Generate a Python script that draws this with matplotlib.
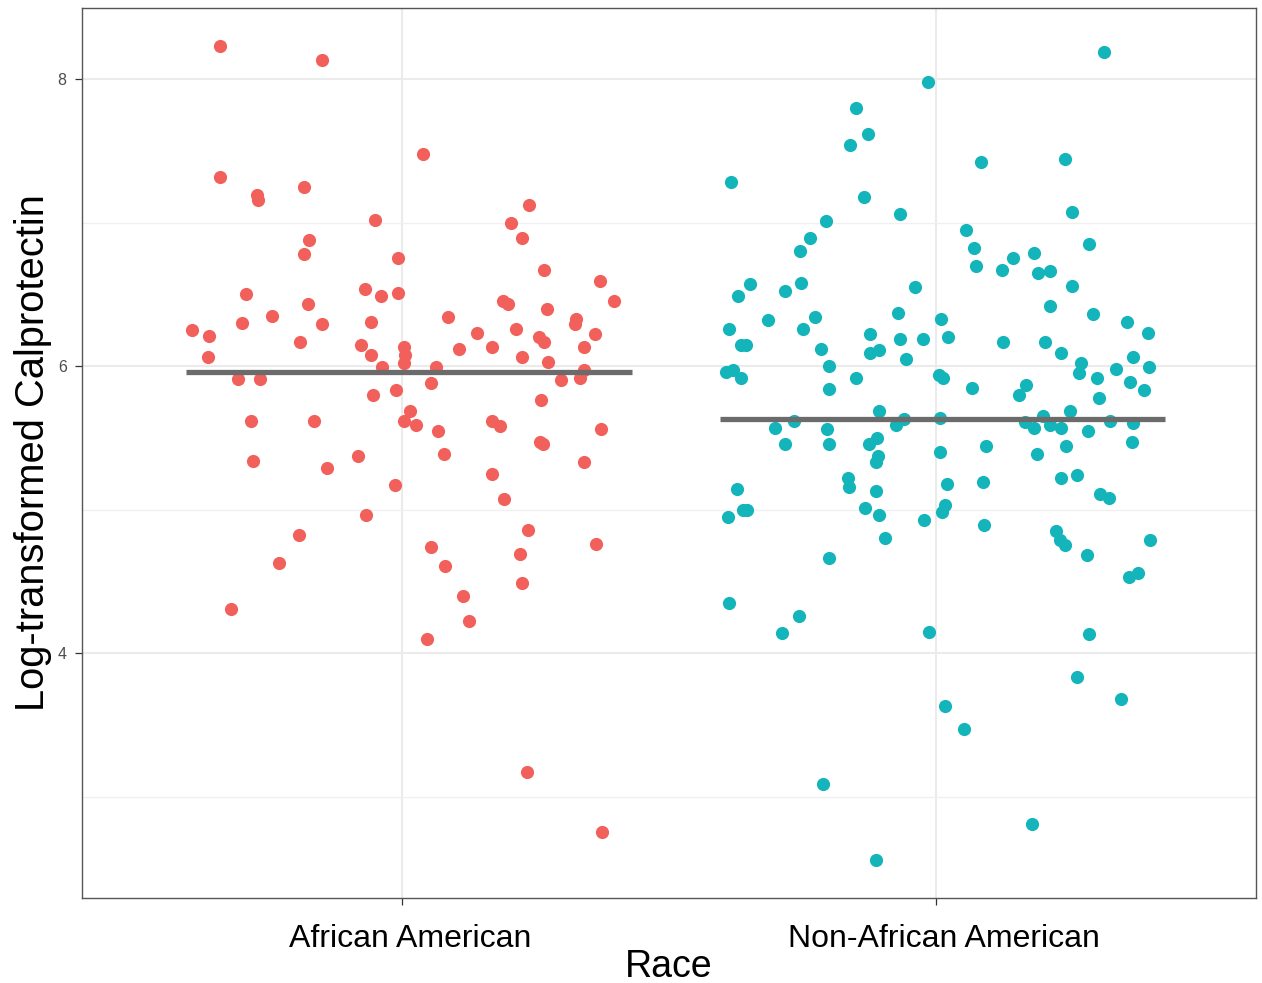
import matplotlib
matplotlib.use("Agg")
import matplotlib.pyplot as plt
import matplotlib.transforms as mtransforms
import numpy as np

categories = ["African American", "Non-African American"]

# African American: horizontal jitter offset and log-transformed calprotectin
aa_jitter = [-0.341, -0.150, -0.341, -0.272, -0.270, -0.184, 0.039, 0.238, -0.051, 0.203,
             -0.174, 0.225, -0.184, -0.008, 0.265, 0.371, -0.293, -0.069, -0.039, -0.008,
             -0.176, -0.244, -0.300, -0.394, -0.362, -0.150, -0.058, 0.086, 0.188, 0.199,
             0.272, 0.396, 0.326, 0.323, 0.214, 0.141, 0.362, -0.191, -0.077, 0.004,
             0.006, 0.004, 0.107, 0.169, 0.257, 0.266, 0.340, -0.364, -0.058, 0.225,
             0.274, -0.038, 0.064, -0.308, -0.266, 0.334, 0.340, 0.298, -0.011, 0.054,
             -0.054, 0.261, 0.015, -0.283, 0.004, 0.026, -0.165, 0.169, 0.184, 0.068,
             0.373, 0.259, 0.263, -0.280, -0.083, 0.079, -0.141, 0.341, 0.169, -0.013,
             0.191, -0.068, 0.236, -0.193, 0.054, 0.364, 0.221, -0.231, 0.081, 0.225,
             0.114, -0.321, 0.126, 0.047, 0.233, 0.375]
aa_values = [8.23, 8.13, 7.32, 7.19, 7.16, 7.25, 7.48, 7.12, 7.02, 7.00,
             6.88, 6.89, 6.78, 6.75, 6.67, 6.59, 6.50, 6.54, 6.49, 6.51,
             6.43, 6.35, 6.30, 6.25, 6.21, 6.29, 6.31, 6.34, 6.45, 6.43,
             6.40, 6.45, 6.33, 6.29, 6.26, 6.23, 6.22, 6.17, 6.15, 6.13,
             6.08, 6.02, 6.12, 6.13, 6.20, 6.17, 6.13, 6.06, 6.08, 6.06,
             6.03, 5.99, 5.99, 5.91, 5.91, 5.92, 5.97, 5.90, 5.83, 5.88,
             5.80, 5.76, 5.69, 5.62, 5.62, 5.59, 5.62, 5.62, 5.58, 5.55,
             5.56, 5.47, 5.46, 5.34, 5.37, 5.39, 5.29, 5.33, 5.25, 5.17,
             5.07, 4.96, 4.86, 4.82, 4.74, 4.76, 4.69, 4.63, 4.61, 4.49,
             4.40, 4.31, 4.22, 4.10, 3.17, 2.75]

# Non-African American
naa_jitter = [0.315, -0.015, -0.150, -0.128, -0.161, 0.084, 0.242, -0.383, -0.135, 0.255,
              -0.068, -0.205, 0.056, -0.236, 0.287, 0.071, -0.255, 0.184, 0.144, 0.075,
              0.124, 0.191, 0.214, -0.349, -0.253, -0.371, -0.283, -0.039, 0.255, 0.214,
              -0.071, -0.227, -0.315, 0.009, 0.295, 0.358, -0.388, -0.248, -0.366, -0.356,
              -0.216, -0.124, -0.068, -0.024, -0.124, -0.107, -0.056, 0.023, 0.126, 0.205,
              0.398, 0.235, 0.370, 0.400, 0.272, 0.268, 0.338, 0.302, 0.364, 0.390,
              0.306, -0.394, -0.381, -0.366, -0.201, -0.150, -0.201, 0.006, 0.013, 0.068,
              0.169, 0.156, -0.107, -0.266, -0.302, -0.203, -0.075, -0.060, 0.008, 0.201,
              0.251, 0.167, 0.184, 0.214, 0.235, 0.326, 0.370, 0.285, 0.368, -0.283,
              -0.201, -0.126, -0.111, -0.113, -0.109, 0.008, 0.094, 0.244, 0.189, -0.165,
              -0.163, -0.113, -0.373, -0.362, -0.353, -0.390, -0.133, -0.107, -0.096, -0.023,
              0.011, 0.017, 0.021, 0.088, 0.235, 0.265, 0.308, 0.325, 0.090, 0.225,
              0.233, 0.242, 0.283, 0.402, -0.201, 0.362, 0.379, -0.388, -0.257, -0.289,
              -0.013, 0.287, 0.265, 0.347, 0.017, 0.053, -0.212, 0.180, -0.113]
naa_values = [8.19, 7.98, 7.80, 7.62, 7.54, 7.42, 7.44, 7.28, 7.18, 7.07,
              7.06, 7.01, 6.95, 6.89, 6.85, 6.82, 6.80, 6.79, 6.75, 6.70,
              6.67, 6.65, 6.66, 6.57, 6.58, 6.49, 6.52, 6.55, 6.56, 6.42,
              6.37, 6.34, 6.32, 6.33, 6.36, 6.31, 6.26, 6.26, 6.15, 6.15,
              6.12, 6.22, 6.19, 6.19, 6.09, 6.11, 6.05, 6.20, 6.17, 6.17,
              6.23, 6.09, 6.06, 5.99, 6.02, 5.95, 5.98, 5.92, 5.89, 5.83,
              5.78, 5.96, 5.97, 5.92, 6.00, 5.92, 5.84, 5.94, 5.92, 5.85,
              5.87, 5.80, 5.69, 5.62, 5.57, 5.56, 5.59, 5.63, 5.64, 5.65,
              5.69, 5.61, 5.57, 5.59, 5.57, 5.62, 5.60, 5.55, 5.47, 5.46,
              5.46, 5.46, 5.50, 5.33, 5.37, 5.40, 5.44, 5.44, 5.39, 5.22,
              5.16, 5.13, 5.14, 5.00, 5.00, 4.95, 5.01, 4.96, 4.80, 4.93,
              4.98, 5.03, 5.18, 5.19, 5.22, 5.24, 5.11, 5.08, 4.89, 4.85,
              4.79, 4.75, 4.68, 4.79, 4.66, 4.53, 4.56, 4.35, 4.26, 4.14,
              4.15, 4.13, 3.83, 3.68, 3.63, 3.47, 3.09, 2.81, 2.56]

group_means = [5.96, 5.63]

y_ticks = [4, 6, 8]
y_minor = [3, 5, 7]

colors = ["#F2605B", "#13B5BA"]
line_lo, line_hi = -0.405, 0.43

fig = plt.figure(figsize=(12.62, 9.83), dpi=100)
ax = fig.add_axes([82 / 1262, 1 - 898 / 983, (1256 - 82) / 1262, (898 - 8) / 983])

xs = [1, 2]
jit = [aa_jitter, naa_jitter]
vals = [aa_values, naa_values]

for i in range(2):
    ax.scatter(np.array(jit[i]) + xs[i], vals[i], s=90, color=colors[i],
               linewidths=0, zorder=3)

for i in range(2):
    ax.hlines(group_means[i], xs[i] + line_lo, xs[i] + line_hi, color="#6B6B6B",
              linewidth=3.8, zorder=4)

ax.set_xlim(0.4, 2.6)
ax.set_ylim(2.293, 8.495)
ax.set_xticks(xs)
ax.set_xticklabels(categories, fontsize=23, color="black", family="Liberation Sans")
ax.set_yticks(y_ticks)
ax.set_yticklabels([str(t) for t in y_ticks], fontsize=11.5, color="#4D4D4D",
                   family="Liberation Sans")
ax.set_yticks(y_minor, minor=True)

ax.grid(True, which="major", color="#EBEBEB", linewidth=1.5, zorder=0)
ax.grid(True, which="minor", axis="y", color="#F0F0F0", linewidth=1.0, zorder=0)
ax.set_axisbelow(True)

ax.tick_params(axis="both", which="major", length=5, width=0.9, color="#333333")
ax.tick_params(axis="x", pad=14)
ax.tick_params(axis="y", pad=6)
ax.tick_params(axis="y", which="minor", length=0)

# shift x tick labels slightly to the right like the reference (after tick_params)
offset = mtransforms.ScaledTranslation(8 / 100, 0, fig.dpi_scale_trans)
for lab in ax.get_xticklabels():
    lab.set_transform(lab.get_transform() + offset)

for sp in ax.spines.values():
    sp.set_color("#555555")
    sp.set_linewidth(1.0)

ax.set_xlabel("Race", fontsize=27, family="Liberation Sans", labelpad=-4)
ax.set_ylabel("Log-transformed Calprotectin", fontsize=28.7, family="Liberation Sans",
              labelpad=4)

fig.savefig("out.png", dpi=100)
